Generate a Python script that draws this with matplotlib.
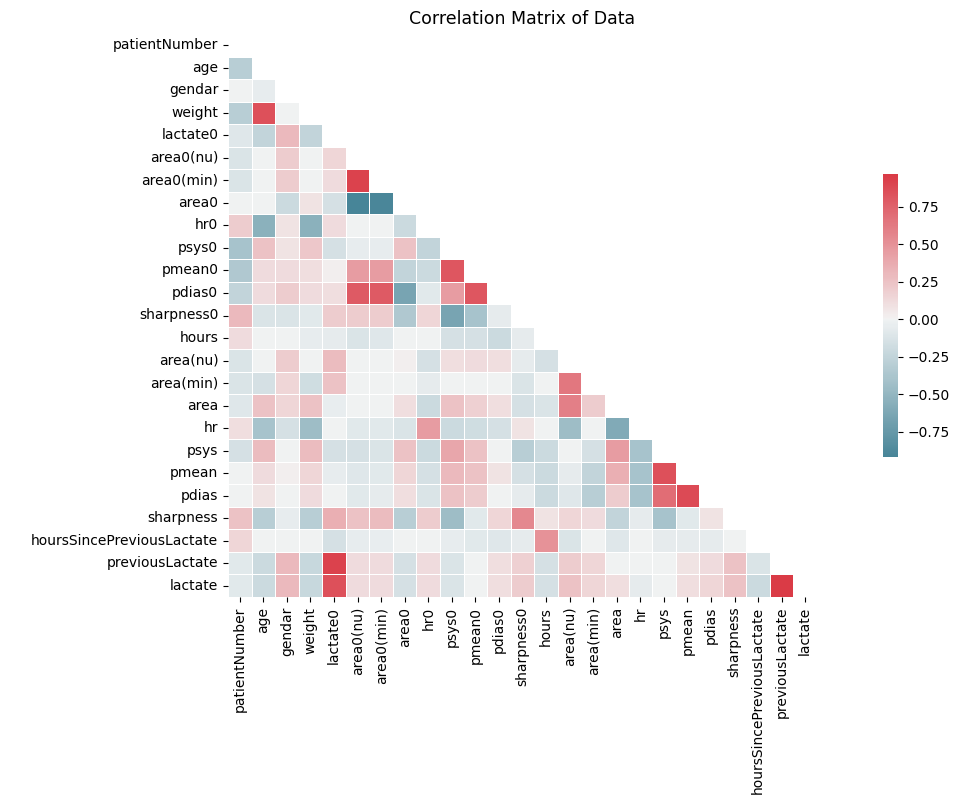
import numpy as np
import pandas as pd
import matplotlib
matplotlib.use("Agg")
import matplotlib.pyplot as plt
import seaborn as sns

labels = ["patientNumber", "age", "gendar", "weight", "lactate0", "area0(nu)",
          "area0(min)", "area0", "hr0", "psys0", "pmean0", "pdias0", "sharpness0",
          "hours", "area(nu)", "area(min)", "area", "hr", "psys", "pmean", "pdias",
          "sharpness", "hoursSincePreviousLactate", "previousLactate", "lactate"]

# lower-triangle rows (correlation of each variable with the previous ones)
r_age = [-0.3]
r_gendar = [0.0, -0.05]
r_weight = [-0.3, 0.85, 0.0]
r_lactate0 = [-0.1, -0.25, 0.3, -0.25]
r_area0nu = [-0.12, 0.0, 0.2, 0.0, 0.15]
r_area0min = [-0.12, 0.0, 0.2, 0.0, 0.12, 0.92]
r_area0 = [0.0, 0.0, -0.2, 0.08, -0.15, -0.92, -0.9]
r_hr0 = [0.2, -0.55, 0.08, -0.55, 0.12, 0.0, 0.0, -0.2]
r_psys0 = [-0.4, 0.25, 0.08, 0.22, -0.15, -0.05, -0.05, 0.25, -0.25]
r_pmean0 = [-0.35, 0.12, 0.12, 0.1, 0.02, 0.45, 0.45, -0.25, -0.2, 0.82]
r_pdias0 = [-0.25, 0.12, 0.2, 0.12, 0.1, 0.8, 0.8, -0.65, -0.08, 0.45, 0.82]
r_sharpness0 = [0.3, -0.12, -0.12, -0.08, 0.2, 0.2, 0.2, -0.35, 0.15, -0.65, -0.4, -0.06]
r_hours = [0.12, 0.0, 0.0, -0.05, -0.06, -0.12, -0.1, 0.0, 0.0, -0.15, -0.15, -0.2, -0.06]
r_areanu = [-0.12, 0.0, 0.2, 0.0, 0.28, 0.0, 0.0, 0.02, -0.15, 0.1, 0.12, 0.1, -0.06, -0.15]
r_areamin = [-0.12, -0.15, 0.15, -0.18, 0.25, 0.0, 0.0, 0.0, -0.06, 0.0, 0.0, 0.0, -0.12, 0.0, 0.65]
r_area = [-0.1, 0.25, 0.15, 0.25, -0.04, 0.0, 0.0, 0.1, -0.2, 0.25, 0.18, 0.1, -0.15, -0.12, 0.6, 0.2]
r_hr = [0.1, -0.4, -0.15, -0.45, 0.0, -0.08, -0.08, -0.12, 0.45, -0.2, -0.18, -0.15, 0.08, 0.0,
        -0.45, 0.0, -0.6]
r_psys = [-0.15, 0.28, 0.0, 0.28, -0.15, -0.15, -0.12, 0.25, -0.2, 0.4, 0.25, 0.0, -0.3, -0.2,
          0.0, -0.15, 0.45, -0.4]
r_pmean = [0.0, 0.12, 0.02, 0.15, -0.05, -0.1, -0.08, 0.15, -0.15, 0.3, 0.25, 0.08, -0.15, -0.2,
           -0.06, -0.25, 0.35, -0.4, 0.85]
r_pdias = [0.0, 0.08, 0.0, 0.12, 0.0, -0.08, -0.06, 0.1, -0.12, 0.25, 0.2, 0.0, -0.06, -0.2,
           -0.1, -0.3, 0.2, -0.4, 0.7, 0.88]
r_sharpness = [0.25, -0.3, -0.05, -0.3, 0.35, 0.25, 0.28, -0.3, 0.2, -0.45, -0.08, 0.15, 0.55,
               0.08, 0.15, 0.12, -0.25, -0.06, -0.4, -0.08, 0.08]
r_hoursSince = [0.15, 0.0, 0.0, 0.0, -0.15, -0.05, -0.04, 0.0, 0.0, -0.05, -0.08, -0.1, -0.06,
                0.5, -0.12, 0.0, -0.1, 0.0, -0.06, -0.06, -0.06, 0.0]
r_prevLactate = [-0.08, -0.2, 0.3, -0.22, 0.92, 0.12, 0.12, -0.15, 0.12, -0.12, 0.0, 0.1, 0.18,
                 -0.15, 0.2, 0.15, 0.0, 0.0, 0.0, 0.08, 0.12, 0.25, -0.12]
r_lactate = [-0.08, -0.2, 0.3, -0.22, 0.85, 0.12, 0.12, -0.15, 0.12, -0.12, 0.0, 0.1, 0.2,
             -0.15, 0.25, 0.15, 0.1, -0.06, 0.0, 0.1, 0.15, 0.25, -0.2, 0.97]

rows = [[], r_age, r_gendar, r_weight, r_lactate0, r_area0nu, r_area0min, r_area0, r_hr0,
        r_psys0, r_pmean0, r_pdias0, r_sharpness0, r_hours, r_areanu, r_areamin, r_area,
        r_hr, r_psys, r_pmean, r_pdias, r_sharpness, r_hoursSince, r_prevLactate, r_lactate]

n = len(labels)
M = np.eye(n)
for i, r in enumerate(rows):
    for j, v in enumerate(r):
        M[i, j] = v
        M[j, i] = v
corr = pd.DataFrame(M, index=labels, columns=labels)
mask = np.triu(np.ones_like(M, dtype=bool))

W, H = 954, 807
fig = plt.figure(figsize=(W / 100, H / 100), dpi=100)
ax = fig.add_axes([228 / W, 1 - 597 / H, 589 / W, 563 / H])
cax = fig.add_axes([883 / W, 1 - 457 / H, 15 / W, 283 / H])

cmap = sns.diverging_palette(220, 10, as_cmap=True)
sns.heatmap(corr, mask=mask, cmap=cmap, center=0, square=False, linewidths=0.5,
            ax=ax, cbar_ax=cax)
ax.tick_params(axis="both", labelsize=10)
cax.tick_params(labelsize=10)
ax.set_title("Correlation Matrix of Data", fontsize=12.5, pad=7)

fig.savefig("out.png", dpi=100)
